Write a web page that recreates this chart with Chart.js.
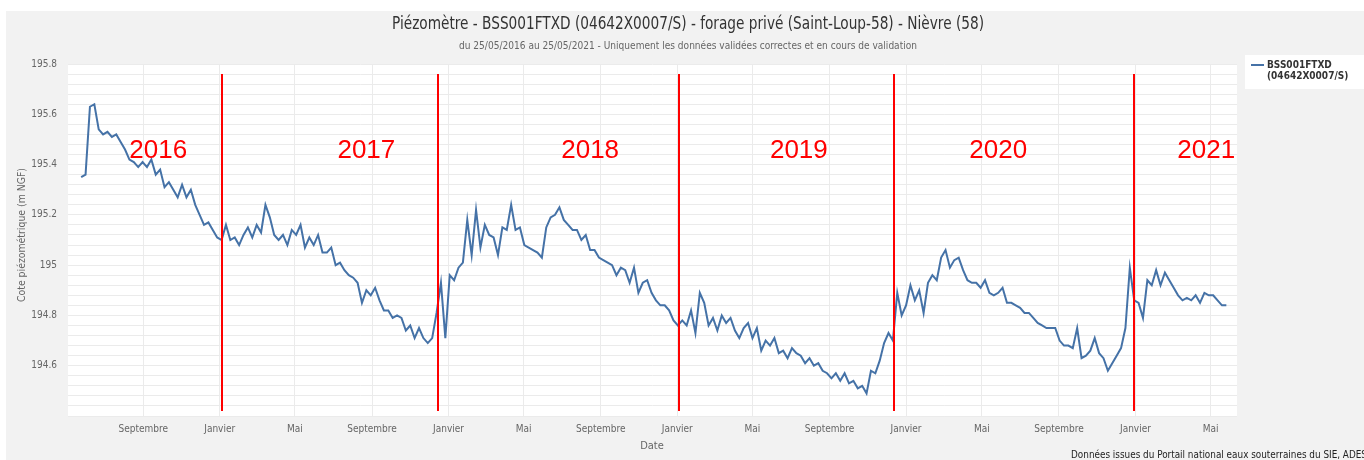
<!DOCTYPE html>
<html>
<head>
<meta charset="utf-8">
<script src="https://cdn.jsdelivr.net/npm/chart.js@4/dist/chart.umd.min.js"></script>
<style>
  html, body { margin: 0; padding: 0; background: #fff; }
  canvas { display: block; }
</style>
</head>
<body>
<canvas id="piezo" width="1364" height="460"></canvas>
<script>
// weekly readings from 25/05/2016 (m NGF)
var firstDay = '2016-05-25';
var stepDays = 7;
var levels = [
  195.35, 195.36, 195.63, 195.64, 195.54, 195.52, 195.53, 195.51, 195.52, 195.49,
  195.46, 195.42, 195.41, 195.39, 195.41, 195.39, 195.42, 195.36, 195.38, 195.31,
  195.33, 195.30, 195.27, 195.32, 195.27, 195.30, 195.24, 195.20, 195.16, 195.17,
  195.14, 195.11, 195.10, 195.16, 195.10, 195.11, 195.08, 195.12, 195.15, 195.11,
  195.16, 195.13, 195.24, 195.19, 195.12, 195.10, 195.12, 195.08, 195.14, 195.12,
  195.16, 195.07, 195.11, 195.08, 195.12, 195.05, 195.05, 195.07, 195.00, 195.01,
  194.98, 194.96, 194.95, 194.93, 194.85, 194.90, 194.88, 194.91, 194.86, 194.82,
  194.82, 194.79, 194.80, 194.79, 194.74, 194.76, 194.71, 194.75, 194.71, 194.69,
  194.71, 194.81, 194.93, 194.71, 194.96, 194.94, 194.99, 195.01, 195.18, 195.04,
  195.22, 195.07, 195.16, 195.12, 195.11, 195.04, 195.15, 195.14, 195.24, 195.14,
  195.15, 195.08, 195.07, 195.06, 195.05, 195.03, 195.15, 195.19, 195.20, 195.23,
  195.18, 195.16, 195.14, 195.14, 195.10, 195.12, 195.06, 195.06, 195.03, 195.02,
  195.01, 195.00, 194.96, 194.99, 194.98, 194.93, 194.99, 194.89, 194.93, 194.94,
  194.89, 194.86, 194.84, 194.84, 194.82, 194.78, 194.76, 194.78, 194.76, 194.82,
  194.73, 194.89, 194.85, 194.76, 194.79, 194.74, 194.80, 194.77, 194.79, 194.74,
  194.71, 194.75, 194.77, 194.71, 194.75, 194.66, 194.70, 194.68, 194.71, 194.65,
  194.66, 194.63, 194.67, 194.65, 194.64, 194.61, 194.63, 194.60, 194.61, 194.58,
  194.57, 194.55, 194.57, 194.54, 194.57, 194.53, 194.54, 194.51, 194.52, 194.49,
  194.58, 194.57, 194.62, 194.69, 194.73, 194.70, 194.89, 194.80, 194.84, 194.92,
  194.86, 194.90, 194.81, 194.93, 194.96, 194.94, 195.03, 195.06, 194.99, 195.02,
  195.03, 194.98, 194.94, 194.93, 194.93, 194.91, 194.94, 194.89, 194.88, 194.89,
  194.91, 194.85, 194.85, 194.84, 194.83, 194.81, 194.81, 194.79, 194.77, 194.76,
  194.75, 194.75, 194.75, 194.70, 194.68, 194.68, 194.67, 194.75, 194.63, 194.64,
  194.66, 194.71, 194.65, 194.63, 194.58, 194.61, 194.64, 194.67, 194.75, 194.99,
  194.86, 194.85, 194.79, 194.94, 194.92, 194.98, 194.92, 194.97, 194.94, 194.91,
  194.88, 194.86, 194.87, 194.86, 194.88, 194.85, 194.89, 194.88, 194.88, 194.86,
  194.84, 194.84
];

var tickDates = ['2016-09-01', '2017-01-01', '2017-05-01', '2017-09-01', '2018-01-01',
  '2018-05-01', '2018-09-01', '2019-01-01', '2019-05-01', '2019-09-01', '2020-01-01',
  '2020-05-01', '2020-09-01', '2021-01-01', '2021-05-01'];
var tickLabels = ['Septembre', 'Janvier', 'Mai', 'Septembre', 'Janvier', 'Mai', 'Septembre',
  'Janvier', 'Mai', 'Septembre', 'Janvier', 'Mai', 'Septembre', 'Janvier', 'Mai'];
var yLabelled = [194.6, 194.8, 195, 195.2, 195.4, 195.6, 195.8];

// red year separators and year names added on top of the chart
var yearLines = ['2017-01-05', '2017-12-15', '2019-01-04', '2019-12-13', '2020-12-30'];
var yearNames = ['2016', '2017', '2018', '2019', '2020', '2021'];
var yearNameDates = ['2016-09-25', '2017-08-23', '2018-08-15', '2019-07-14', '2020-05-27', '2021-04-24'];

var titleText = 'Piézomètre - BSS001FTXD (04642X0007/S) - forage privé (Saint-Loup-58) - Nièvre (58)';
var subtitleText = 'du 25/05/2016 au 25/05/2021 - Uniquement les données validées correctes et en cours de validation';
var creditText = 'Données issues du Portail national eaux souterraines du SIE, ADES';

var NARROW = '"Liberation Sans Narrow", "DejaVu Sans Condensed", "Liberation Sans", sans-serif';

function dayNum(s) {
  var p = s.split('-');
  return Date.UTC(+p[0], +p[1] - 1, +p[2]) / 864e5;
}

var start = dayNum(firstDay);
var points = levels.map(function (v, i) { return { x: start + i * stepDays, y: v }; });

var decor = {
  id: 'decor',
  beforeDraw: function (chart) {
    var ctx = chart.ctx, a = chart.chartArea;
    ctx.save();
    ctx.fillStyle = '#ffffff';
    ctx.fillRect(0, 0, chart.width, chart.height);
    ctx.fillStyle = '#f2f2f2';
    ctx.fillRect(6, 11, chart.width - 6, chart.height - 11);
    ctx.fillStyle = '#ffffff';
    ctx.fillRect(a.left, a.top, a.right - a.left, a.bottom - a.top);
    ctx.restore();
  },
  afterDatasetsDraw: function (chart) {
    var ctx = chart.ctx, xs = chart.scales.x, ys = chart.scales.y;
    ctx.save();
    // year separators
    ctx.strokeStyle = '#ff0000';
    ctx.lineWidth = 2;
    yearLines.forEach(function (d) {
      var px = Math.round(xs.getPixelForValue(dayNum(d)));
      ctx.beginPath();
      ctx.moveTo(px, ys.getPixelForValue(195.76));
      ctx.lineTo(px, ys.getPixelForValue(194.42));
      ctx.stroke();
    });
    ctx.fillStyle = '#ff0000';
    ctx.font = '26px "Liberation Sans", Arial, sans-serif';
    ctx.textAlign = 'center';
    ctx.textBaseline = 'middle';
    yearNames.forEach(function (t, i) {
      ctx.fillText(t, xs.getPixelForValue(dayNum(yearNameDates[i])), ys.getPixelForValue(195.455));
    });

    // titles
    ctx.fillStyle = '#333333';
    ctx.font = '17px ' + NARROW;
    ctx.fillText(titleText, 688, 25, 592);
    ctx.fillStyle = '#666666';
    ctx.font = '11px ' + NARROW;
    ctx.fillText(subtitleText, 688, 46, 458);

    // axis titles
    ctx.font = '11px ' + NARROW;
    ctx.fillText('Date', 652, 446);
    ctx.save();
    ctx.translate(22, 235);
    ctx.rotate(-Math.PI / 2);
    ctx.fillText('Cote piézométrique (m NGF)', 0, 0, 134);
    ctx.restore();

    // legend
    ctx.fillStyle = '#ffffff';
    ctx.fillRect(1245, 55, chart.width - 1245, 34);
    ctx.strokeStyle = '#4572a7';
    ctx.lineWidth = 2;
    ctx.beginPath();
    ctx.moveTo(1251, 65);
    ctx.lineTo(1264, 65);
    ctx.stroke();
    ctx.fillStyle = '#333333';
    ctx.font = 'bold 10px ' + NARROW;
    ctx.textAlign = 'left';
    ctx.fillText('BSS001FTXD', 1267, 65);
    ctx.fillText('(04642X0007/S)', 1267, 76);

    // credits
    ctx.fillStyle = '#222222';
    ctx.font = '11px ' + NARROW;
    ctx.fillText(creditText, 1071, 455, 296);
    ctx.restore();
  }
};

var chart = new Chart(document.getElementById('piezo'), {
  type: 'line',
  data: {
    datasets: [{
      label: 'BSS001FTXD (04642X0007/S)',
      data: points,
      borderColor: '#4572a7',
      borderWidth: 2,
      pointRadius: 0,
      tension: 0,
      fill: false
    }]
  },
  options: {
    responsive: false,
    animation: false,
    layout: { padding: { top: 64, right: 127, left: 0, bottom: 0 } },
    plugins: {
      legend: { display: false },
      tooltip: { enabled: false }
    },
    scales: {
      x: {
        type: 'linear',
        min: dayNum('2016-05-04'),
        max: dayNum('2021-06-12'),
        afterBuildTicks: function (s) {
          s.ticks = tickDates.map(function (d) { return { value: dayNum(d) }; });
        },
        afterFit: function (s) { s.height = 44; },
        ticks: {
          autoSkip: false,
          maxRotation: 0,
          padding: 7,
          color: '#666666',
          font: { family: NARROW, size: 10 },
          callback: function (v, i) { return tickLabels[i]; }
        },
        grid: { color: '#ebebeb', drawTicks: false },
        border: { display: false }
      },
      y: {
        min: 194.4,
        max: 195.8,
        afterBuildTicks: function (s) {
          var t = [];
          for (var k = 0; k <= 35; k++) t.push({ value: +(194.4 + k * 0.04).toFixed(2) });
          s.ticks = t;
        },
        afterFit: function (s) { s.width = 68; },
        ticks: {
          autoSkip: false,
          padding: 11,
          color: '#666666',
          font: { family: NARROW, size: 10 },
          callback: function (v) {
            var hit = yLabelled.filter(function (l) { return Math.abs(l - v) < 1e-6; });
            return hit.length ? String(hit[0]) : '';
          }
        },
        grid: { color: '#ebebeb', drawTicks: false },
        border: { display: false }
      }
    }
  },
  plugins: [decor]
});
</script>
</body>
</html>
